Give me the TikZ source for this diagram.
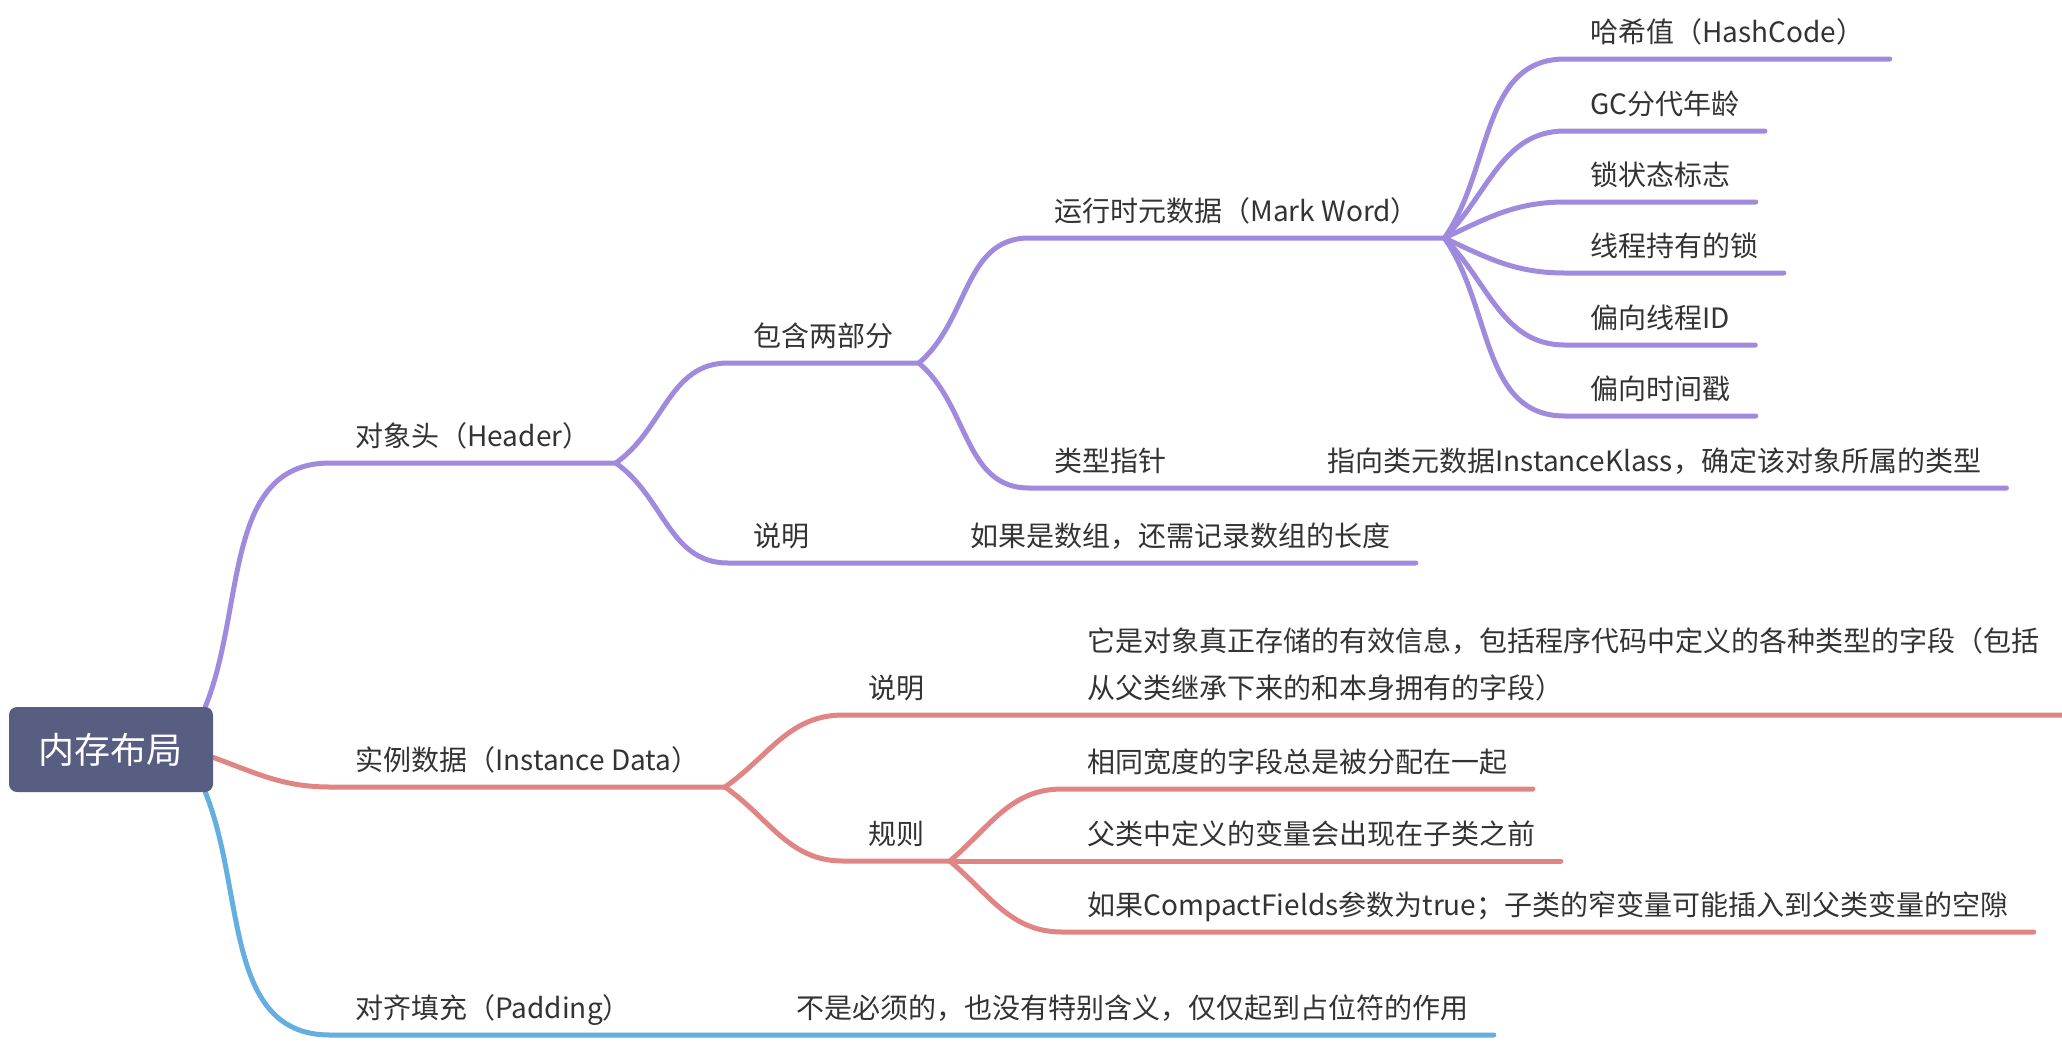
\documentclass[tikz,border=0pt]{standalone}
\usepackage{fontspec}
\setmainfont{Noto Sans CJK SC}
\usetikzlibrary{backgrounds}
\definecolor{hdcol}{HTML}{A08ADE}
\definecolor{instcol}{HTML}{E08484}
\definecolor{padcol}{HTML}{64AEE0}
\definecolor{rootcol}{HTML}{585D82}
\definecolor{txtcol}{HTML}{333333}
\tikzset{
  rootbox/.style={fill=rootcol, rounded corners=4pt, minimum width=102pt, minimum height=42.5pt,
    text=white, font=\fontsize{18pt}{22pt}\selectfont},
  topic/.style={anchor=south west, inner xsep=12.5pt, inner ysep=8pt, text depth=0pt,
    text=txtcol, font=\fontsize{14pt}{17pt}\selectfont},
  branch/.style={line width=2.5pt, line cap=round},
}

\begin{document}
\begin{tikzpicture}[x=0.5pt,y=-0.5pt]
      \useasboundingbox (0,0) rectangle (2062,1040);
      % central topic
      \node[rootbox] (root) at (111,749.5) {内存布局};
      % object header
      \node[topic] (hd) at (330,463) {对象头（Header）};
      \node[topic] (two) at (728,363) {包含两部分};
      \node[topic] (mark) at (1029,238) {运行时元数据（Mark Word）};
      \node[topic] (hash) at (1565,59) {哈希值（HashCode）};
      \node[topic] (age) at (1565,131) {GC分代年龄};
      \node[topic] (lock) at (1565,202) {锁状态标志};
      \node[topic] (own) at (1565,273) {线程持有的锁};
      \node[topic] (tid) at (1565,345) {偏向线程ID};
      \node[topic] (stamp) at (1565,416) {偏向时间戳};
      \node[topic] (ptr) at (1029,488) {类型指针};
      \node[topic] (ptrd) at (1302,488) {指向类元数据InstanceKlass，确定该对象所属的类型};
      \node[topic] (hdnote) at (728,563) {说明};
      \node[topic] (hdnoted) at (945,563) {如果是数组，还需记录数组的长度};
      % instance data
      \node[topic] (inst) at (330,787) {实例数据（Instance Data）};
      \node[topic] (idesc) at (843,715) {说明};
      \node[topic, align=left, font=\fontsize{14pt}{23.5pt}\selectfont] (idescd) at (1062,715)
        {它是对象真正存储的有效信息，包括程序代码中定义的各种类型的字段（包括\\从父类继承下来的和本身拥有的字段）};
      \node[topic] (rule) at (843,861) {规则};
      \node[topic] (rsame) at (1062,789) {相同宽度的字段总是被分配在一起};
      \node[topic] (rparent) at (1062,861) {父类中定义的变量会出现在子类之前};
      \node[topic] (rcompact) at (1062,932) {如果CompactFields参数为true；子类的窄变量可能插入到父类变量的空隙};
      % padding
      \node[topic] (pad) at (330,1035) {对齐填充（Padding）};
      \node[topic] (padd) at (771,1035) {不是必须的，也没有特别含义，仅仅起到占位符的作用};
      % main branches, behind the central box
      \begin{scope}[on background layer]
      \draw[branch, hdcol] ([xshift=-4pt]root.north east) to[out=68,in=180] (hd.south west) -- (hd.south east);
      \draw[branch, instcol] ([yshift=-4pt]root.east) to[out=-20,in=180] (inst.south west) -- (inst.south east);
      \draw[branch, padcol] ([xshift=-4pt]root.south east) to[out=-68,in=180] (pad.south west) -- (pad.south east) -- (padd.south west) -- (padd.south east);
      \end{scope}
      % header branches
      \draw[branch, hdcol] (hd.south east) to[out=35,in=180] (two.south west) -- (two.south east);
      \draw[branch, hdcol] (hd.south east) to[out=-35,in=180] (hdnote.south west) -- (hdnote.south east) -- (hdnoted.south west) -- (hdnoted.south east);
      \draw[branch, hdcol] (two.south east) to[out=40,in=180] (mark.south west) -- (mark.south east);
      \draw[branch, hdcol] (two.south east) to[out=-40,in=180] (ptr.south west) -- (ptr.south east) -- (ptrd.south west) -- (ptrd.south east);
      % mark word fan
      \draw[branch, hdcol] (mark.south east) to[out=55,in=180] (hash.south west) -- (hash.south east);
      \draw[branch, hdcol] (mark.south east) to[out=45,in=180] (age.south west) -- (age.south east);
      \draw[branch, hdcol] (mark.south east) to[out=25,in=180] (lock.south west) -- (lock.south east);
      \draw[branch, hdcol] (mark.south east) to[out=-25,in=180] (own.south west) -- (own.south east);
      \draw[branch, hdcol] (mark.south east) to[out=-45,in=180] (tid.south west) -- (tid.south east);
      \draw[branch, hdcol] (mark.south east) to[out=-55,in=180] (stamp.south west) -- (stamp.south east);
      % instance branches
      \draw[branch, instcol] (inst.south east) to[out=35,in=180] (idesc.south west) -- (idesc.south east) -- (idescd.south west) -- (idescd.south east);
      \draw[branch, instcol] (inst.south east) to[out=-35,in=180] (rule.south west) -- (rule.south east);
      \draw[branch, instcol] (rule.south east) to[out=40,in=180] (rsame.south west) -- (rsame.south east);
      \draw[branch, instcol] (rule.south east) -- (rparent.south west) -- (rparent.south east);
      \draw[branch, instcol] (rule.south east) to[out=-40,in=180] (rcompact.south west) -- (rcompact.south east);
\end{tikzpicture}
\end{document}
